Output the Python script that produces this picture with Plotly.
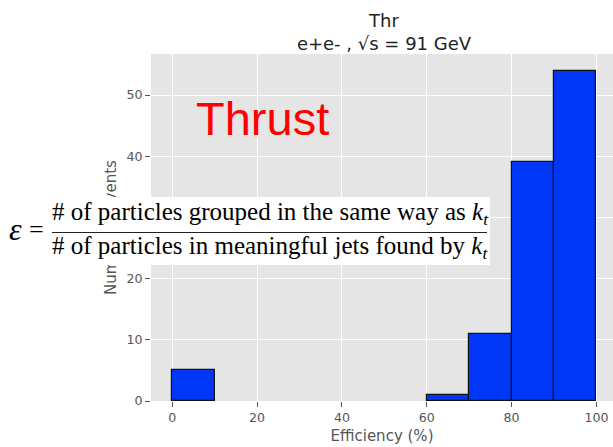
import plotly.graph_objects as go

# Histogram of jet-grouping efficiency (thrust), 10 % wide bins
bin_left = [0, 10, 20, 30, 40, 50, 60, 70, 80, 90]
counts = [5, 0, 0, 0, 0, 0, 1, 11, 39, 54]
bin_width = 10

title_lines = ["Thr", "e+e- , √s = 91 GeV"]
x_label = "Efficiency (%)"
y_label = "Number of events"
x_ticks = [0, 20, 40, 60, 80, 100]
y_ticks = [0, 10, 20, 30, 40, 50]

W, H = 613, 447
ML, MR, MT, MB = 151, 0, 54, 46
PW, PH = W - ML - MR, H - MT - MB


def px(x):
    """pixel column -> paper x"""
    return (x - ML) / PW


def py(y):
    """pixel row -> paper y"""
    return (H - MB - y) / PH


# only non-empty bins are drawn
bx = [l + bin_width / 2 for l, c in zip(bin_left, counts) if c > 0]
by = [c for c in counts if c > 0]

fig = go.Figure()
fig.add_trace(go.Bar(
    x=bx, y=by, width=bin_width,
    marker=dict(color="#0037F7", line=dict(color="#111111", width=1.2)),
    hoverinfo="x+y",
))

grey = "#555555"
fig.update_layout(
    width=W, height=H,
    margin=dict(l=ML, r=MR, t=MT, b=MB, pad=0),
    paper_bgcolor="white",
    plot_bgcolor="#E5E5E5",
    showlegend=False,
    font=dict(family="DejaVu Sans", color=grey),
    title=dict(
        text="<br>".join(title_lines),
        font=dict(family="DejaVu Sans", size=18, color="#222222"),
        x=px(384), xref="paper", xanchor="center",
        y=1 - 27 / H, yref="container", yanchor="bottom",
    ),
    bargap=0,
)
fig.update_xaxes(
    range=[-5, 103.9], tickvals=x_ticks,
    showgrid=True, gridcolor="white", gridwidth=1, zeroline=False,
    ticks="outside", ticklen=5, tickwidth=1, tickcolor=grey,
    tickfont=dict(family="DejaVu Sans", size=12.6, color=grey),
    title=dict(text=x_label, font=dict(family="DejaVu Sans", size=15, color=grey), standoff=6),
)
fig.update_yaxes(
    range=[0, 56.7], tickvals=y_ticks,
    showgrid=True, gridcolor="white", gridwidth=1, zeroline=False,
    ticks="outside", ticklen=5, tickwidth=1, tickcolor=grey,
    ticklabelstandoff=0,
    tickfont=dict(family="DejaVu Sans", size=12.6, color=grey),
    title=dict(text=y_label, font=dict(family="DejaVu Sans", size=15, color=grey), standoff=6),
)

serif = "Liberation Serif"
annots = [
    # big red label
    dict(text="Thrust", x=px(262.5), y=py(119), xanchor="center", yanchor="middle",
         font=dict(family="Liberation Sans", size=47, color="#FF0000")),
    # white panel behind the efficiency definition
    dict(text=" ", x=px(0), y=py(197), xanchor="left", yanchor="top",
         width=490, height=68, bgcolor="white", borderpad=0, borderwidth=0,
         font=dict(size=4)),
    dict(text="<i>ε</i>", x=px(15), y=py(229), xanchor="center", yanchor="middle",
         font=dict(family=serif, size=32, color="black")),
    dict(text="=", x=px(36.5), y=py(229), xanchor="center", yanchor="middle",
         font=dict(family=serif, size=26, color="black")),
    dict(text="# of particles grouped in the same way as <i>k</i><sub><i>t</i></sub>",
         x=px(270), y=py(213), xanchor="center", yanchor="middle",
         font=dict(family=serif, size=25, color="black")),
    dict(text="# of particles in meaningful jets found by <i>k</i><sub><i>t</i></sub>",
         x=px(270), y=py(247), xanchor="center", yanchor="middle",
         font=dict(family=serif, size=25, color="black")),
    # fraction bar
    dict(text=" ", x=px(52), y=py(232), xanchor="left", yanchor="middle",
         width=435, height=1, bgcolor="#222222", borderpad=0, borderwidth=0,
         font=dict(size=1)),
]
for a in annots:
    fig.add_annotation(xref="paper", yref="paper", showarrow=False, **a)

fig.write_html("out.html")
